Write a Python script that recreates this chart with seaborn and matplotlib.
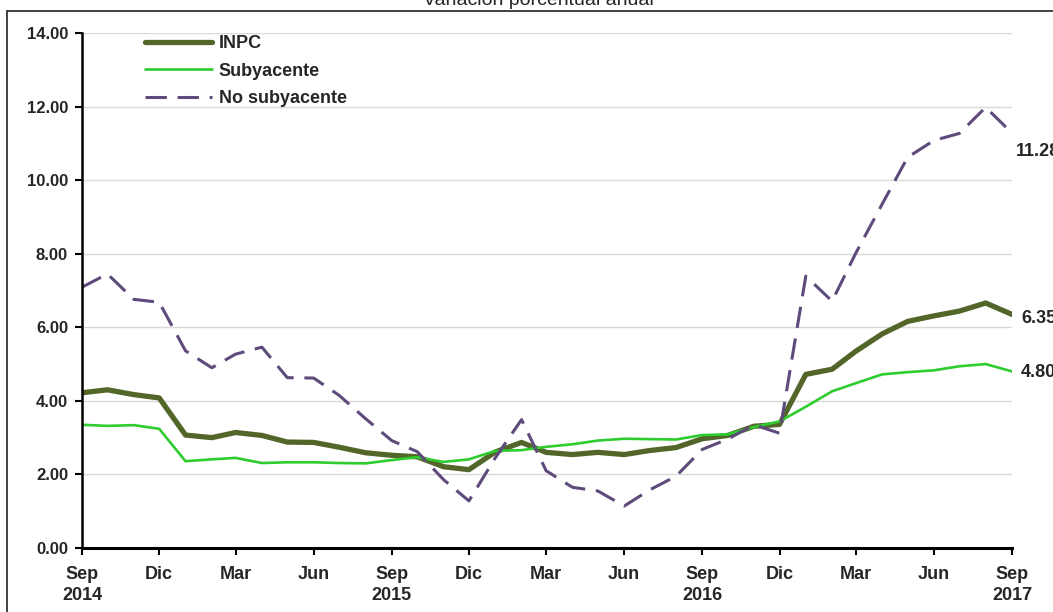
import pandas as pd
import matplotlib.pyplot as plt
import matplotlib.patches as mpatches
import seaborn as sns

# Variación porcentual anual, Sep 2014 - Sep 2017
months = pd.date_range("2014-09-01", "2017-09-01", freq="MS")

inpc = [4.22, 4.30, 4.17, 4.08, 3.07, 3.00, 3.14, 3.06, 2.88, 2.87, 2.74, 2.59,
        2.52, 2.48, 2.21, 2.13, 2.61, 2.87, 2.60, 2.54, 2.60, 2.54, 2.65, 2.73,
        2.97, 3.06, 3.31, 3.36, 4.72, 4.86, 5.35, 5.82, 6.16, 6.31, 6.44, 6.66,
        6.35]
subyacente = [3.35, 3.32, 3.34, 3.24, 2.36, 2.41, 2.45, 2.31, 2.33, 2.33, 2.31, 2.30,
              2.39, 2.47, 2.34, 2.41, 2.64, 2.66, 2.75, 2.82, 2.92, 2.97, 2.96, 2.95,
              3.07, 3.09, 3.29, 3.44, 3.84, 4.26, 4.48, 4.72, 4.78, 4.83, 4.94, 5.00,
              4.80]
no_subyacente = [7.09, 7.45, 6.76, 6.68, 5.36, 4.90, 5.27, 5.46, 4.63, 4.62, 4.15, 3.52,
                 2.92, 2.62, 1.86, 1.28, 2.45, 3.49, 2.10, 1.65, 1.55, 1.14, 1.58, 1.95,
                 2.68, 2.96, 3.35, 3.12, 7.39, 6.71, 8.02, 9.35, 10.62, 11.08, 11.27, 11.98,
                 11.28]

tick_labels = ["Sep\n2014", "Dic", "Mar", "Jun", "Sep\n2015", "Dic", "Mar", "Jun",
               "Sep\n2016", "Dic", "Mar", "Jun", "Sep\n2017"]

sns.set_style("white")
plt.rcParams["font.family"] = ["Liberation Sans", "DejaVu Sans"]

fig = plt.figure(figsize=(10.53, 6.12), dpi=100)
ax = fig.add_axes([82 / 1053, 1 - 548 / 612, 930 / 1053, 515 / 612])

sns.lineplot(x=months, y=inpc, ax=ax, color="#536629", linewidth=3.8,
             label="INPC", solid_capstyle="round")
sns.lineplot(x=months, y=subyacente, ax=ax, color="#2ecc2e", linewidth=1.9,
             label="Subyacente")
sns.lineplot(x=months, y=no_subyacente, ax=ax, color="#5f4a7c", linewidth=2.2,
             label="No subyacente")
ax.lines[2].set_linestyle((0, (7, 3.5)))

ax.set_xlim(months[0], months[-1])
ax.set_ylim(0, 14)
ax.set_yticks(range(0, 15, 2))
ax.set_yticklabels([f"{v:.2f}" for v in range(0, 15, 2)], fontsize=12, fontweight="bold")
ax.set_xticks(months[::3])
ax.set_xticklabels(tick_labels, fontsize=13, fontweight="bold", linespacing=1.3)
ax.tick_params(axis="both", direction="out", length=5, width=1.5, color="black",
               left=True, bottom=True)
ax.tick_params(axis="x", pad=8)
ax.tick_params(axis="y", pad=5)
ax.grid(axis="y", color="#d9d9d9", linewidth=1)
ax.set_xlabel("")
ax.set_ylabel("")
for side in ["top", "right"]:
    ax.spines[side].set_visible(False)
ax.spines["left"].set_color("black")
ax.spines["left"].set_linewidth(1.8)
ax.spines["bottom"].set_color("black")
ax.spines["bottom"].set_linewidth(2.2)

leg = ax.legend(loc="upper left", bbox_to_anchor=(0.05, 1.027), frameon=False,
                prop={"weight": "bold", "size": 13}, handlelength=3.7,
                handletextpad=0.4, labelspacing=0.58)

# value labels at the end of each series
end_labels = [(no_subyacente[-1], (4, -18)), (inpc[-1], (9, -4)), (subyacente[-1], (9, -1))]
for val, off in end_labels:
    ax.annotate(f"{val:.2f}", xy=(months[-1], val), xytext=off,
                textcoords="offset pixels", va="center", ha="left",
                fontsize=13, fontweight="bold", annotation_clip=False)

fig.text(538 / 1053, 1 - 5 / 612, "Variación porcentual anual", ha="center",
         va="baseline", fontsize=14)
fig.patches.append(mpatches.Rectangle((7 / 1053, -0.1), 1.2, 1.1 - 11 / 612,
                                      transform=fig.transFigure, fill=False,
                                      edgecolor="#333333", linewidth=1.3))

fig.savefig("out.png", dpi=100)
